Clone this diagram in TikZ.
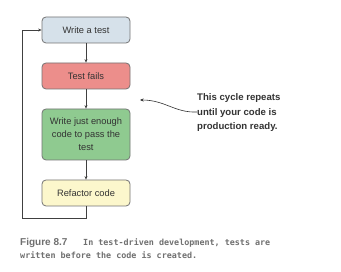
\documentclass[tikz,border=0pt]{standalone}
\usepackage{fontspec}
\setmainfont{Liberation Sans}
\newfontfamily\capmono{DejaVu Sans Mono}
\usetikzlibrary{arrows.meta}
\definecolor{edge}{HTML}{747474}
\definecolor{ink}{HTML}{333333}
\definecolor{fblue}{HTML}{D6E1EA}
\definecolor{fred}{HTML}{EC8E8B}
\definecolor{fgreen}{HTML}{8FCA90}
\definecolor{fyellow}{HTML}{FCF7CC}
\definecolor{capgray}{HTML}{707070}
\tikzset{
  stepbox/.style={draw=edge, line width=0.8pt, rounded corners=4pt,
    minimum width=88pt, minimum height=26pt, align=center,
    text=ink, font=\fontsize{9.3}{13}\selectfont, inner sep=2pt},
  flow/.style={draw=black!75, line width=0.6pt, -{Stealth[length=3.5pt,width=3pt]}},
  note/.style={font=\bfseries\fontsize{9.6}{14.5}\selectfont, text=ink, align=left, anchor=north west, inner sep=0pt},
  captext/.style={anchor=base west, inner sep=0pt, text=capgray, font=\capmono\bfseries\fontsize{8.4}{12}\selectfont}
}
\begin{document}
\begin{tikzpicture}[x=1pt,y=-1pt]
  \useasboundingbox (0,0) rectangle (341,272);
  \fill[white] (0,0) rectangle (341,272);
  \node[stepbox, fill=fblue]  (write) at (86,30) {Write a test};
  \node[stepbox, fill=fred]   (fails) at (86,76) {Test fails};
  \node[stepbox, fill=fgreen, minimum height=51pt] (code) at (86,134.5) {Write just enough\\code to pass the\\test};
  \node[stepbox, fill=fyellow] (refac) at (86,193) {Refactor code};
  \draw[flow] (write) -- (fails);
  \draw[flow] (fails) -- (code);
  \draw[flow] (code) -- (refac);
  \coordinate (low) at (86,218);
  \coordinate (corner) at (22,218);
  \draw[flow] (refac.south) -- (low) -- (corner) |- (write.west);
  \node[note] (cyc) at (197,93.5) {This cycle repeats\\until your code is\\production ready.};
  \coordinate (tip) at (140,100);
  \draw[draw=ink, line width=0.6pt, -{Stealth[length=3.5pt,width=3pt]}] (cyc.west |- 0,112) .. controls (175,113) and (165,100) .. (tip);
  \node[captext, font=\bfseries\fontsize{10}{12}\selectfont] (fig) at (20,246) {Figure 8.7};
  \node[captext] (cap1) at (83,246) {In test-driven development, tests are};
  \node[captext] (cap2) at (20,259) {written before the code is created.};
\end{tikzpicture}
\end{document}
